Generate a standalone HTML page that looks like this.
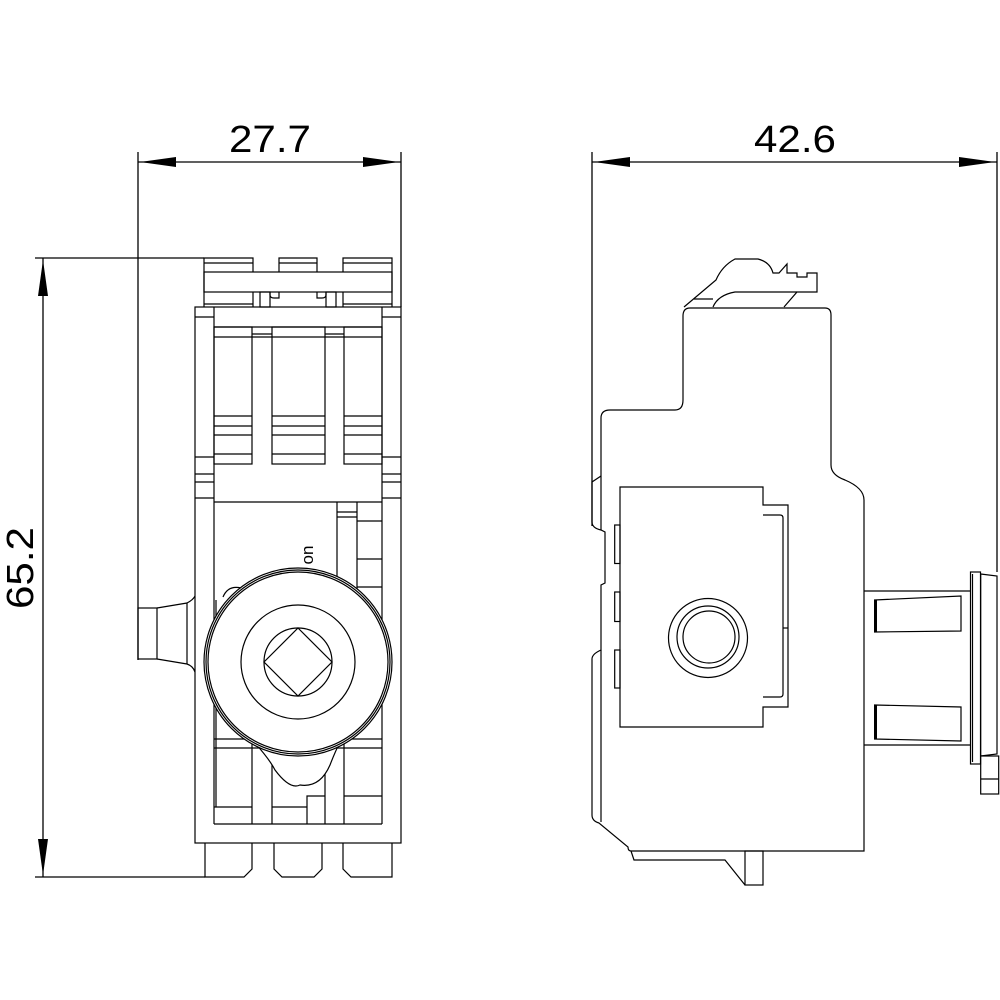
<!DOCTYPE html>
<html><head><meta charset="utf-8"><style>
html,body{margin:0;padding:0;background:#fff}
svg{display:block}
text{font-family:"Liberation Sans",sans-serif;font-weight:normal}
</style></head><body>
<svg width="1000" height="1000" viewBox="0 0 1000 1000" xmlns="http://www.w3.org/2000/svg">
<g fill="none" stroke="#000" stroke-width="1.3">
<line x1="138" y1="152" x2="138" y2="660"/>
<line x1="401" y1="152" x2="401" y2="307"/>
<line x1="138" y1="162" x2="401" y2="162"/>
<line x1="35" y1="258" x2="204" y2="258"/>
<line x1="35" y1="877" x2="205" y2="877"/>
<line x1="43" y1="258" x2="43" y2="877"/>
<line x1="592" y1="152" x2="592" y2="526"/>
<line x1="997" y1="152" x2="997" y2="572"/>
<line x1="592" y1="162" x2="997" y2="162"/>
</g>
<g fill="#000">
<polygon points="140,162 176,157 176,167"/>
<polygon points="399,162 363,157 363,167"/>
<polygon points="594,162 630,157 630,167"/>
<polygon points="995,162 959,157 959,167"/>
<polygon points="43,260 38,296 48,296"/>
<polygon points="43,875 38,839 48,839"/>
</g>
<g fill="#000" stroke="none">
<text x="270" y="152" font-size="38" text-anchor="middle" textLength="82" lengthAdjust="spacingAndGlyphs">27.7</text>
<text x="795" y="152" font-size="38" text-anchor="middle" textLength="82" lengthAdjust="spacingAndGlyphs">42.6</text>
<text transform="translate(33,568) rotate(-90)" font-size="38" text-anchor="middle" textLength="82" lengthAdjust="spacingAndGlyphs">65.2</text>
<text transform="translate(313,555) rotate(-90)" font-size="17" text-anchor="middle">on</text>
</g>

<g fill="none" stroke="#000" stroke-width="1.2">
<path d="M204,307 L204,272 L204,258 L253,258 L253,272"/>
<line x1="204" y1="263" x2="253" y2="263"/>
<path d="M279,272 L279,258 L317,258 L317,272"/>
<line x1="279" y1="263" x2="317" y2="263"/>
<path d="M343,272 L343,258 L392,258 L392,307"/>
<line x1="343" y1="263" x2="392" y2="263"/>
<rect x="204" y="272" width="188" height="20"/>
<line x1="253" y1="292" x2="253" y2="307"/>
<line x1="343" y1="292" x2="343" y2="307"/>
<line x1="204" y1="304" x2="253" y2="304"/>
<line x1="343" y1="304" x2="392" y2="304"/>
<rect x="260" y="292" width="10" height="15"/>
<rect x="326" y="292" width="10" height="15"/>
<path d="M270,292 v3 q0,3 4,3 h5 v-6"/>
<path d="M326,292 v3 q0,3 -4,3 h-5 v-6"/>
<rect x="195" y="307" width="206" height="536"/>
<line x1="214" y1="307" x2="214" y2="824"/>
<line x1="382" y1="307" x2="382" y2="824"/>
<line x1="214" y1="824" x2="382" y2="824"/>
<line x1="195" y1="317" x2="214" y2="317"/>
<line x1="382" y1="317" x2="401" y2="317"/>
<line x1="214" y1="327" x2="382" y2="327"/>
<rect x="214" y="327" width="38" height="137"/>
<rect x="272" y="327" width="53" height="137"/>
<rect x="344" y="327" width="38" height="137"/>
<line x1="252" y1="334" x2="272" y2="334"/>
<line x1="325" y1="334" x2="344" y2="334"/>
<g>
<line x1="214" y1="337" x2="382" y2="337"/>
<line x1="214" y1="416" x2="252" y2="416"/><line x1="272" y1="416" x2="325" y2="416"/><line x1="344" y1="416" x2="382" y2="416"/>
<line x1="214" y1="426" x2="252" y2="426"/><line x1="272" y1="426" x2="325" y2="426"/><line x1="344" y1="426" x2="382" y2="426"/>
<line x1="214" y1="435" x2="252" y2="435"/><line x1="272" y1="435" x2="325" y2="435"/><line x1="344" y1="435" x2="382" y2="435"/>
<line x1="214" y1="454" x2="252" y2="454"/><line x1="272" y1="454" x2="325" y2="454"/><line x1="344" y1="454" x2="382" y2="454"/>
</g>
<line x1="195" y1="457" x2="214" y2="457"/><line x1="195" y1="474" x2="214" y2="474"/><line x1="195" y1="482" x2="214" y2="482"/><line x1="195" y1="498" x2="214" y2="498"/>
<line x1="382" y1="457" x2="401" y2="457"/><line x1="382" y1="474" x2="401" y2="474"/><line x1="382" y1="482" x2="401" y2="482"/><line x1="382" y1="498" x2="401" y2="498"/>
<line x1="214" y1="502" x2="382" y2="502"/>
<line x1="337" y1="502" x2="337" y2="580"/>
<line x1="357" y1="502" x2="357" y2="600"/>
<line x1="337" y1="512" x2="357" y2="512"/>
<line x1="337" y1="517" x2="357" y2="517"/>
<line x1="357" y1="521" x2="382" y2="521"/>
<line x1="357" y1="559" x2="382" y2="559"/>
<line x1="357" y1="587" x2="382" y2="587"/>
<line x1="214" y1="739" x2="382" y2="739"/>
<line x1="214" y1="748" x2="382" y2="748"/>
<line x1="216" y1="600" x2="216" y2="807"/>
<line x1="252" y1="743" x2="252" y2="824"/>
<line x1="272" y1="760" x2="272" y2="824"/>
<line x1="325" y1="760" x2="325" y2="824"/>
<line x1="344" y1="743" x2="344" y2="824"/>
<line x1="214" y1="807" x2="252" y2="807"/>
<line x1="272" y1="807" x2="307" y2="807"/>
<path d="M307,824 V796 H325"/>
<line x1="344" y1="796" x2="382" y2="796"/>
<path d="M223,597 q5,-12 18,-9" fill="#fff"/>
<path d="M255,743 Q270,760 275,770 Q290,790 300,785 Q320,788 330,765 Q335,752 340,742" fill="#fff"/>
<circle cx="298" cy="662" r="94" fill="#fff"/>
<circle cx="298" cy="662" r="92"/>
<circle cx="298" cy="662" r="90"/>
<circle cx="298" cy="662" r="57"/>
<circle cx="298" cy="662" r="34"/>
<polygon points="298,628 332,662 298,696 264,662"/>
<rect x="138" y="608" width="19" height="51"/>
<path d="M157,608 L187,603 Q193,600 195,596"/>
<path d="M157,659 L187,664 Q193,666 195,672"/>
<line x1="187" y1="603" x2="187" y2="664"/>
<path d="M205,843 V877 H244 L252,869 V843"/>
<path d="M274,843 V869 L282,877 H314 L322,869 V843"/>
<path d="M343,843 V869 L351,877 H392 V843"/>
</g>

<g fill="none" stroke="#000" stroke-width="1.2">
<path d="M684,307 L716,280 Q722,266 735,259 L758,259 Q770,262 773,273 L779,273 L787,264 L787,273 L797,273 L797,277 L807,277 L807,273 L817,273 L817,292 L797,292 L784,307"/>
<path d="M694,299 L713,299"/>
<path d="M713,307 Q718,295 735,292 L797,292"/>
<path d="M690,308 H825 Q831,308 831,315 V465 Q831,475 845,480 Q864,488 864,500 V851 H631 Q628,851 628,847 L599,823 Q592,821 592,815 V659 Q592,654 601,650 V585 L605,583 V532 L601,530 Q592,528 592,522 V482 L601,476"/>
<path d="M601,530 V418 Q601,410 610,410 H675 Q683,410 683,400 V316 Q683,308 690,308"/>
<line x1="601" y1="650" x2="601" y2="822"/>
<path d="M631,851 L634,860 H725 L745,885"/>
<rect x="745" y="851" width="18" height="34"/>
<path d="M620,487 H763 V505 H788 V707 H763 V727 H620 Z"/>
<path d="M763,515 H780 Q783,515 783,518 V694 Q783,697 780,697 H763"/>
<line x1="783" y1="628" x2="788" y2="628"/>
<rect x="614.7" y="525" width="5.3" height="38.5"/>
<rect x="614.7" y="592" width="5.3" height="29.5"/>
<rect x="614.7" y="650" width="5.3" height="38"/>
<circle cx="708" cy="638" r="39.5"/>
<circle cx="708" cy="637" r="31"/>
<circle cx="709" cy="637" r="26"/>
<line x1="864" y1="591" x2="970.5" y2="591"/>
<line x1="864" y1="745" x2="970.5" y2="745"/>
<path d="M874.6,600 L961,596 V631 L874.6,632 Z"/>
<line x1="876" y1="600" x2="876" y2="632" stroke-width="2"/>
<path d="M874.6,705 L961,707 V741 L874.6,739 Z"/>
<line x1="876" y1="705" x2="876" y2="739" stroke-width="2"/>
<rect x="970.5" y="572" width="10" height="192"/>
<line x1="972.5" y1="574" x2="972.5" y2="762"/>
<path d="M980.7,574 L997,576 V754 L980.7,756 Z"/>
<rect x="980.7" y="756" width="18" height="38"/>
<line x1="980.7" y1="779" x2="998.7" y2="779"/>
</g>
</svg>
</body></html>
